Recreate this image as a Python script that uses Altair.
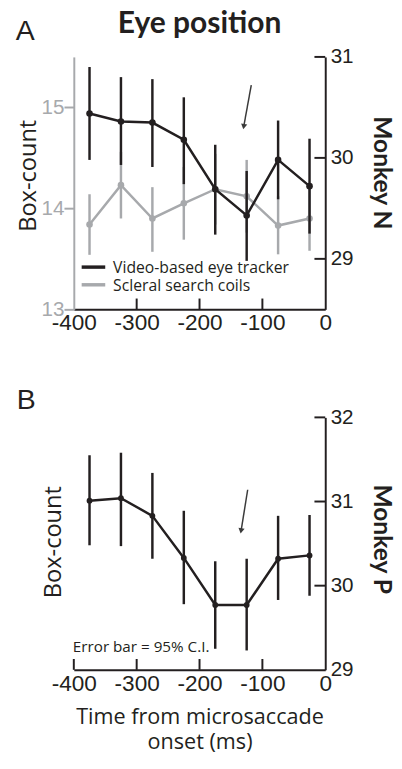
import altair as alt
import pandas as pd

# ---------------- data ----------------
time_ms = [-375, -325, -275, -225, -175, -125, -75, -25]

# Panel A, Monkey N, video-based eye tracker (right axis)
a_video_mean = [30.44, 30.36, 30.35, 30.18, 29.69, 29.43, 29.98, 29.72]
a_video_lo = [29.98, 29.93, 29.91, 29.74, 29.24, 28.98, 29.59, 29.25]
a_video_hi = [30.90, 30.80, 30.78, 30.60, 30.13, 29.87, 30.37, 30.19]

# Panel A, scleral search coils (left axis)
a_coil_mean = [13.84, 14.23, 13.90, 14.05, 14.19, 14.12, 13.83, 13.90]
a_coil_lo = [13.54, 13.90, 13.57, 13.69, 13.84, 13.76, 13.545, 13.58]
a_coil_hi = [14.14, 14.56, 14.21, 14.41, 14.54, 14.48, 14.12, 14.22]

# Panel B, Monkey P
b_mean = [31.01, 31.04, 30.83, 30.33, 29.77, 29.77, 30.32, 30.36]
b_lo = [30.48, 30.47, 30.32, 29.78, 29.25, 29.23, 29.83, 29.88]
b_hi = [31.55, 31.58, 31.34, 30.89, 30.29, 30.32, 30.83, 30.84]

# axes
x_ticks = [-400, -300, -200, -100, 0]
a_left_ticks = [13, 14, 15]
a_right_ticks = [29, 30, 31]
b_right_ticks = [29, 30, 31, 32]

# arrows (start, end) in data units
a_arrow_x = [-117.7, -129.7]
a_arrow_y = [30.72, 30.31]
b_arrow_x = [-123.4, -133.9]
b_arrow_y = [31.14, 30.65]

# texts
panel_letters = ["A", "B"]
title_a = ["Eye position"]
ylabel = ["Box-count"]
monkeys = ["Monkey N", "Monkey P"]
legend_labels = ["Video-based eye tracker", "Scleral search coils"]
note_b = ["Error bar = 95% C.I."]
xlabel = ["Time from microsaccade", "onset (ms)"]

# ---------------- style ----------------
BLACK = "#231f20"
GRAY = "#a7a9ac"
W, H = 256, 257
SANS = "Liberation Sans"
MYR = "Open Sans"
BOLD = "Lato"
TICK = 11

x_scale = alt.Scale(domain=[-400, 0], nice=False)


def x_axis(title=None):
    kw = dict(
        values=x_ticks, ticks=False, grid=False, domainColor=BLACK, domainWidth=2,
        labelFont=SANS, labelFontSize=23, labelColor=BLACK, labelPadding=3,
        labelFlush=False, labelExpr="'' + datum.value", orient="bottom",
    )
    if title is not None:
        kw.update(title=title, titleFont=MYR, titleFontSize=22, titleFontWeight="normal",
                  titleColor=BLACK, titlePadding=12, titleLineHeight=25)
    else:
        kw.update(title=None)
    return alt.Axis(**kw)


def right_axis(vals):
    return alt.Axis(orient="right", values=vals, ticks=False, grid=False, domainColor=BLACK,
                    domainWidth=2, labelFont=SANS, labelFontSize=21, labelColor=BLACK,
                    labelPadding=5, labelExpr="'' + datum.value", title=None)


def text_layer(txt, x, y, size, angle=0, weight="normal", font=MYR, align="center",
               baseline="middle"):
    df = pd.DataFrame({"label": [txt]})
    kw = dict(fontSize=size, font=font, fontWeight=weight, color=BLACK, align=align,
              baseline=baseline)
    if angle:
        kw["angle"] = angle
    return alt.Chart(df).mark_text(**kw).encode(
        text="label:N", x=alt.value(x), y=alt.value(y))


def xtick_layer(vals, xt):
    return alt.Chart(pd.DataFrame({"v": vals})).mark_rule(color=BLACK, strokeWidth=2).encode(
        x=alt.X("v:Q", scale=x_scale, title=xt), y=alt.value(H - TICK), y2=alt.value(H))


def ytick_layer(vals, yscale):
    return alt.Chart(pd.DataFrame({"v": vals})).mark_rule(color=BLACK, strokeWidth=2).encode(
        y=alt.Y("v:Q", scale=yscale, title=None), x=alt.value(W - TICK), x2=alt.value(W))


def arrow_layers(xs, ys, yscale, xt):
    df = pd.DataFrame({"x1": [xs[0]], "y1": [ys[0]], "x2": [xs[1]], "y2": [ys[1]]})
    line = alt.Chart(df).mark_rule(color="#3a3a3a", strokeWidth=1.5).encode(
        x=alt.X("x1:Q", scale=x_scale, title=xt), x2="x2:Q",
        y=alt.Y("y1:Q", scale=yscale, title=None), y2="y2:Q")
    head = alt.Chart(df).mark_point(shape="triangle-down", filled=True, size=40,
                                    color="#3a3a3a", opacity=1, angle=10).encode(
        x=alt.X("x2:Q", scale=x_scale, title=xt),
        y=alt.Y("y2:Q", scale=yscale, title=None))
    return [line, head]


# ---------------- panel A ----------------
df_a = pd.DataFrame({
    "t": time_ms,
    "video": a_video_mean, "video_lo": a_video_lo, "video_hi": a_video_hi,
    "coil": a_coil_mean, "coil_lo": a_coil_lo, "coil_hi": a_coil_hi,
})
yl = alt.Scale(domain=[13, 15.5], nice=False, zero=False)
yr_a = alt.Scale(domain=[28.5, 31], nice=False, zero=False)

left_axis = alt.Axis(orient="left", values=a_left_ticks, grid=False, domainColor=GRAY,
                     domainWidth=2, tickColor=GRAY, tickWidth=2, tickSize=10,
                     labelFont=SANS, labelFontSize=21, labelColor=GRAY, labelPadding=0,
                     labelExpr="'' + datum.value", title=None)

base_a = alt.Chart(df_a)
gray_group = alt.layer(
    base_a.mark_rule(color=GRAY, strokeWidth=2.5).encode(
        x=alt.X("t:Q", scale=x_scale, axis=x_axis(), title=None),
        y=alt.Y("coil_lo:Q", scale=yl, axis=left_axis, title=None), y2="coil_hi:Q"),
    base_a.mark_line(color=GRAY, strokeWidth=2.5).encode(
        x=alt.X("t:Q", scale=x_scale, title=None), y=alt.Y("coil:Q", scale=yl, title=None)),
    base_a.mark_circle(color=GRAY, size=45, opacity=1).encode(
        x=alt.X("t:Q", scale=x_scale, title=None), y=alt.Y("coil:Q", scale=yl, title=None)),
)

black_group = alt.layer(
    base_a.mark_rule(color=BLACK, strokeWidth=2.5).encode(
        x=alt.X("t:Q", scale=x_scale, title=None),
        y=alt.Y("video_lo:Q", scale=yr_a, axis=right_axis(a_right_ticks), title=None),
        y2="video_hi:Q"),
    base_a.mark_line(color=BLACK, strokeWidth=2.5).encode(
        x=alt.X("t:Q", scale=x_scale, title=None), y=alt.Y("video:Q", scale=yr_a, title=None)),
    base_a.mark_circle(color=BLACK, size=45, opacity=1).encode(
        x=alt.X("t:Q", scale=x_scale, title=None), y=alt.Y("video:Q", scale=yr_a, title=None)),
    ytick_layer(a_right_ticks, yr_a),
    xtick_layer(x_ticks[1:4], None),
    *arrow_layers(a_arrow_x, a_arrow_y, yr_a, None),
)

legend_a = [
    alt.Chart(pd.DataFrame({"k": [legend_labels[0]]})).mark_rule(color=BLACK, strokeWidth=3.5).encode(
        x=alt.value(8), x2=alt.value(32), y=alt.value(214)),
    alt.Chart(pd.DataFrame({"k": [legend_labels[1]]})).mark_rule(color=GRAY, strokeWidth=3.5).encode(
        x=alt.value(8), x2=alt.value(32), y=alt.value(232)),
    text_layer(legend_labels[0], 40, 215, 16, align="left"),
    text_layer(legend_labels[1], 40, 233, 16, align="left"),
]

texts_a = [
    text_layer(panel_letters[0], -59, -17, 29, font=SANS, align="left", baseline="alphabetic"),
    text_layer(title_a[0], 128, -24.3, 30.5, font=BOLD, weight="bold", baseline="alphabetic"),
    text_layer(ylabel[0], -46, 121, 24, angle=270),
    text_layer(monkeys[0], 314, 118, 25, font=BOLD, angle=90, weight="bold"),
]

panel_a = alt.layer(gray_group, black_group, *legend_a, *texts_a).resolve_scale(
    y="independent").properties(width=W, height=H)

# ---------------- panel B ----------------
df_b = pd.DataFrame({"t": time_ms, "m": b_mean, "lo": b_lo, "hi": b_hi})
yr_b = alt.Scale(domain=[29, 32], nice=False, zero=False)
base_b = alt.Chart(df_b)

panel_b = alt.layer(
    base_b.mark_rule(color=BLACK, strokeWidth=2.5).encode(
        x=alt.X("t:Q", scale=x_scale, axis=x_axis(xlabel), title=xlabel),
        y=alt.Y("lo:Q", scale=yr_b, axis=right_axis(b_right_ticks), title=None), y2="hi:Q"),
    base_b.mark_line(color=BLACK, strokeWidth=2.5).encode(
        x=alt.X("t:Q", scale=x_scale, title=xlabel), y=alt.Y("m:Q", scale=yr_b, title=None)),
    base_b.mark_circle(color=BLACK, size=35, opacity=1).encode(
        x=alt.X("t:Q", scale=x_scale, title=xlabel), y=alt.Y("m:Q", scale=yr_b, title=None)),
    ytick_layer(b_right_ticks[1:], yr_b),
    xtick_layer(x_ticks[0:4], xlabel),
    *arrow_layers(b_arrow_x, b_arrow_y, yr_b, xlabel),
    text_layer(panel_letters[1], -58, -9, 29, font=SANS, align="left", baseline="alphabetic"),
    text_layer(ylabel[0], -20, 127, 24, angle=270),
    text_layer(monkeys[1], 314, 124, 25, font=BOLD, angle=90, weight="bold"),
    text_layer(note_b[0], -1, 234, 15.5, align="left"),
).properties(width=W, height=H)

chart = alt.vconcat(panel_a, panel_b, spacing=52).properties(
    padding={"left": 8, "top": -6, "right": 0, "bottom": 0}
).configure_view(stroke=None)

chart.save("out.html", embed_options={"renderer": "svg", "actions": False})
